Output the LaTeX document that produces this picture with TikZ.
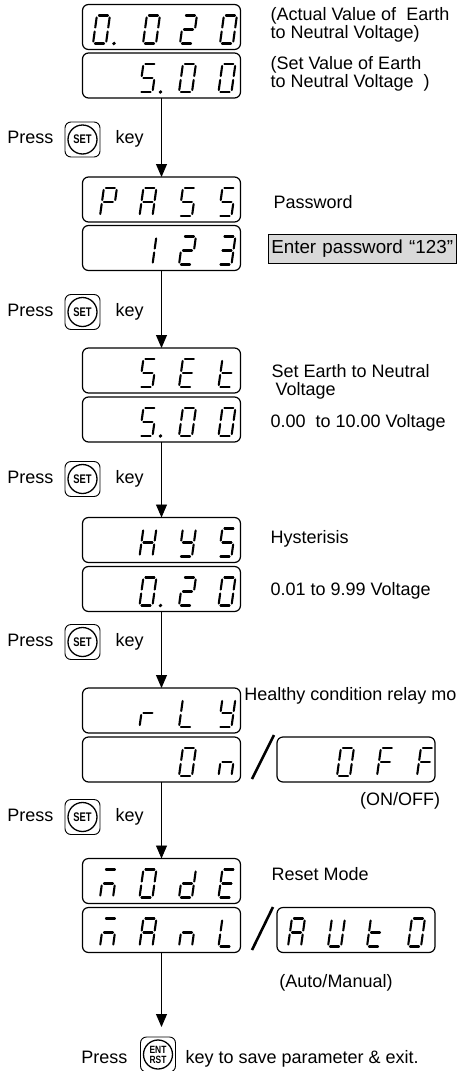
\documentclass[tikz,border=0pt]{standalone}
\usepackage{fontspec}
\usepackage{graphicx}
\setmainfont{Liberation Sans}
\usetikzlibrary{arrows.meta}

\tikzset{
  segline/.style={line width=2.1pt,line cap=round},
  sega/.pic={\draw[segline] (2,-28) -- (11,-28);},
  segb/.pic={\draw[segline] (13,-26) -- (13,-16);},
  segc/.pic={\draw[segline] (13,-12) -- (13,-2);},
  segd/.pic={\draw[segline] (2,0) -- (11,0);},
  sege/.pic={\draw[segline] (0,-2) -- (0,-12);},
  segf/.pic={\draw[segline] (0,-16) -- (0,-26);},
  segg/.pic={\draw[segline] (2,-14) -- (11,-14);},
  segp/.pic={\fill (21,0) circle (1.9pt);}
}

\newcommand{\lcd}[3]{%
  \begin{scope}[shift={(#1)},shift={(#2,-6)},xslant=0.14]
    \foreach \s in {#3} {\pic[transform shape] {seg\s};}
  \end{scope}}

\begin{document}
\begin{tikzpicture}[x=1pt,y=-1pt,
    font=\fontsize{18}{18.5}\selectfont,
    lcdbox/.style={draw,line width=1.2pt,rounded corners=6pt,minimum width=158pt,minimum height=45pt,inner sep=0pt,outer sep=0pt},
    keybox/.style={draw,line width=0.9pt,rounded corners=6pt,minimum size=35pt,inner sep=0pt,outer sep=0pt},
    keyring/.style={draw,circle,line width=1.3pt,minimum size=29pt,inner sep=0pt,font=\fontsize{12.5}{12.5}\selectfont\bfseries},
    flow/.style={line width=0.9pt,-{Triangle[width=11pt,length=13pt]}}]

      \useasboundingbox (0,0) rectangle (459,1071);

      \node (d1a) [lcdbox] at (161.5,27) {};
      \node (d1b) [lcdbox] at (161.5,75.5) {};
      \node (d2a) [lcdbox] at (161.5,199.5) {};
      \node (d2b) [lcdbox] at (161.5,248) {};
      \node (d3a) [lcdbox] at (161.5,370.5) {};
      \node (d3b) [lcdbox] at (161.5,419.5) {};
      \node (d4a) [lcdbox] at (161.5,540) {};
      \node (d4b) [lcdbox] at (161.5,589) {};
      \node (d5a) [lcdbox] at (161.5,710.5) {};
      \node (d5b) [lcdbox] at (161.5,759.5) {};
      \node (d5c) [lcdbox] at (356,759.5) {};
      \node (d6a) [lcdbox] at (161.5,881) {};
      \node (d6b) [lcdbox] at (161.5,930) {};
      \node (d6c) [lcdbox] at (356,930) {};

      \lcd{d1a.south west}{10.5}{a,b,c,d,e,f,p}
      \lcd{d1a.south west}{60.5}{a,b,c,d,e,f}
      \lcd{d1a.south west}{97.5}{a,b,g,e,d}
      \lcd{d1a.south west}{137.5}{a,b,c,d,e,f}
      \lcd{d1b.south west}{57}{a,f,g,c,d,p}
      \lcd{d1b.south west}{96.5}{a,b,c,d,e,f}
      \lcd{d1b.south west}{136}{a,b,c,d,e,f}

      \lcd{d2a.south west}{17.5}{a,b,f,g,e}
      \lcd{d2a.south west}{57}{a,b,c,e,f,g}
      \lcd{d2a.south west}{96.5}{a,f,g,c,d}
      \lcd{d2a.south west}{136}{a,f,g,c,d}
      \lcd{d2b.south west}{57}{b,c}
      \lcd{d2b.south west}{96.5}{a,b,g,e,d}
      \lcd{d2b.south west}{136}{a,b,g,c,d}

      \lcd{d3a.south west}{57}{a,f,g,c,d}
      \lcd{d3a.south west}{96.5}{a,f,g,e,d}
      \lcd{d3a.south west}{136}{f,g,e,d}
      \lcd{d3b.south west}{57}{a,f,g,c,d,p}
      \lcd{d3b.south west}{96.5}{a,b,c,d,e,f}
      \lcd{d3b.south west}{136}{a,b,c,d,e,f}

      \lcd{d4a.south west}{57}{b,c,e,f,g}
      \lcd{d4a.south west}{96.5}{b,f,g,c,d}
      \lcd{d4a.south west}{136}{a,f,g,c,d}
      \lcd{d4b.south west}{57}{a,b,c,d,e,f,p}
      \lcd{d4b.south west}{96.5}{a,b,g,e,d}
      \lcd{d4b.south west}{136}{a,b,c,d,e,f}

      \lcd{d5a.south west}{57}{g,e}
      \lcd{d5a.south west}{96.5}{f,e,d}
      \lcd{d5a.south west}{136}{b,f,g,c,d}
      \lcd{d5b.south west}{96.5}{a,b,c,d,e,f}
      \lcd{d5b.south west}{136}{g,e,c}
      \lcd{d5c.south west}{60}{a,b,c,d,e,f}
      \lcd{d5c.south west}{100}{a,f,g,e}
      \lcd{d5c.south west}{140}{a,f,g,e}

      \lcd{d6a.south west}{17.5}{a,g,e,c}
      \lcd{d6a.south west}{57}{a,b,c,d,e,f}
      \lcd{d6a.south west}{96.5}{b,c,d,e,g}
      \lcd{d6a.south west}{136}{a,f,g,e,d}
      \lcd{d6b.south west}{17.5}{a,g,e,c}
      \lcd{d6b.south west}{57}{a,b,c,e,f,g}
      \lcd{d6b.south west}{96.5}{g,e,c}
      \lcd{d6b.south west}{136}{f,e,d}
      \lcd{d6c.south west}{11}{a,b,c,e,f,g}
      \lcd{d6c.south west}{51}{b,c,d,e,f}
      \lcd{d6c.south west}{90}{f,g,e,d}
      \lcd{d6c.south west}{131}{a,b,c,d,e,f}

      \draw [line width=2.6pt] (252,779) -- (274,735);
      \draw [line width=2.6pt] (252,950) -- (273,907);

      \node (k1) [keybox] at (82.5,139.5) {};
      \node (r1) [keyring] at (k1) {\scalebox{0.75}[1]{SET}};
      \node (p1) [anchor=base east] at (57,143.5) {Press};
      \node (y1) [anchor=base west] at (112,143.5) {key};
      \node (k2) [keybox] at (82.5,312) {};
      \node (r2) [keyring] at (k2) {\scalebox{0.75}[1]{SET}};
      \node (p2) [anchor=base east] at (57,316) {Press};
      \node (y2) [anchor=base west] at (112,316) {key};
      \node (k3) [keybox] at (82.5,479) {};
      \node (r3) [keyring] at (k3) {\scalebox{0.75}[1]{SET}};
      \node (p3) [anchor=base east] at (57,483) {Press};
      \node (y3) [anchor=base west] at (112,483) {key};
      \node (k4) [keybox] at (82.5,642) {};
      \node (r4) [keyring] at (k4) {\scalebox{0.75}[1]{SET}};
      \node (p4) [anchor=base east] at (57,646) {Press};
      \node (y4) [anchor=base west] at (112,646) {key};
      \node (k5) [keybox] at (82.5,817) {};
      \node (r5) [keyring] at (k5) {\scalebox{0.75}[1]{SET}};
      \node (p5) [anchor=base east] at (57,821) {Press};
      \node (y5) [anchor=base west] at (112,821) {key};
      \node (k6) [keybox] at (158,1054.5) {};
      \node (r6) [keyring,align=center,font=\fontsize{10.5}{10}\selectfont\bfseries] at (k6) {\scalebox{0.8}[1]{ENT}\\\scalebox{0.8}[1]{RST}};
      \node (p6) [anchor=base east] at (131,1063.5) {Press};
      \node (y6) [anchor=base west] at (182,1063.5) {key to save parameter \& exit.};

      \draw [flow] (d1b.south) -- (d2a.north);
      \draw [flow] (d2b.south) -- (d3a.north);
      \draw [flow] (d3b.south) -- (d4a.north);
      \draw [flow] (d4b.south) -- (d5a.north);
      \draw [flow] (d5b.south) -- (d6a.north);
      \draw [flow,shorten >=10pt] (d6b.south) -- (d6b.south |- k6.north);

      \node (t1) [anchor=west,align=left] at (267,25) {(Actual Value of\ \ Earth\\to Neutral Voltage)};
      \node (t2) [anchor=west,align=left] at (267,74) {(Set Value of Earth\\to Neutral Voltage\ \ )};
      \node (t3) [anchor=west] at (270,202) {Password};
      \node (t4) [draw,fill=gray!30,line width=0.6pt,anchor=west,minimum height=29pt,text width=182pt,inner xsep=3pt,inner ysep=0pt,font=\fontsize{18.8}{19}\selectfont] at (268,248.5) {Enter password ``123''};
      \node (t5) [anchor=west,align=left] at (268,382) {Set Earth to Neutral\\\hspace*{4pt}Voltage};
      \node (t6) [anchor=west] at (267,423) {0.00\ \ to 10.00 Voltage};
      \node (t7) [anchor=west] at (267,539) {Hysterisis};
      \node (t8) [anchor=west] at (267,591) {0.01 to 9.99 Voltage};
      \node (t9) [anchor=east] at (460,696) {Healthy condition relay mo};
      \node (t10) at (400,801) {(ON/OFF)};
      \node (t11) [anchor=west] at (268,874) {Reset Mode};
      \node (t12) at (336,983) {(Auto/Manual)};
    \end{tikzpicture}
\end{document}
